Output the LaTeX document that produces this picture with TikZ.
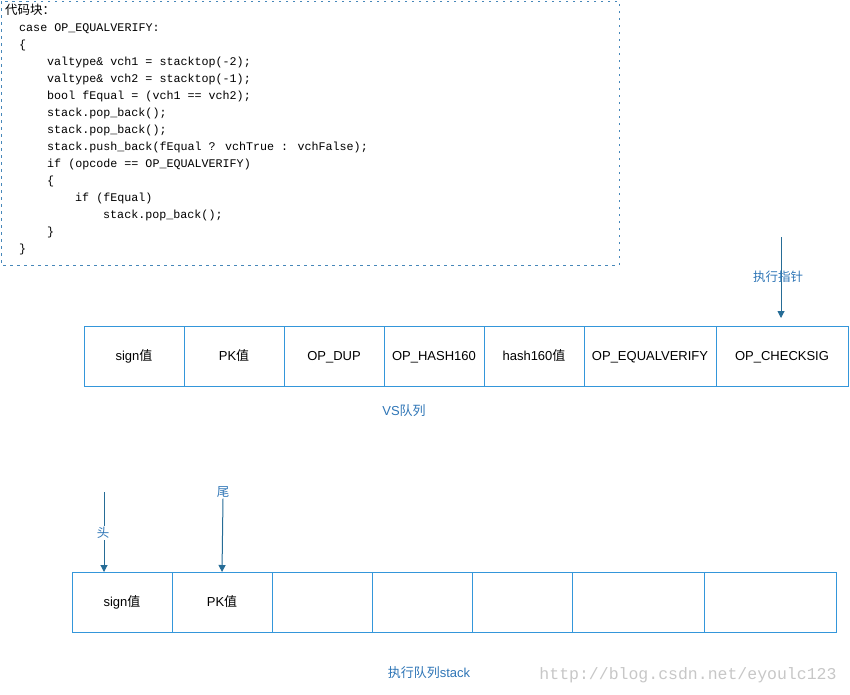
\documentclass[tikz,border=0pt]{standalone}
\usepackage{fontspec}
\setmainfont{Liberation Sans}
\newfontfamily\cjk{Noto Sans CJK SC}
\newfontfamily\codefont{Liberation Mono}
\usetikzlibrary{positioning,arrows.meta}
\definecolor{cellblue}{RGB}{52,150,218}
\definecolor{ptrblue}{RGB}{38,108,150}
\definecolor{labelblue}{RGB}{46,117,182}
\definecolor{dashblue}{RGB}{70,135,185}
\begin{document}
\begin{tikzpicture}[x=1pt,y=-1pt,
  cell/.style={draw=cellblue,line width=1pt,minimum height=60pt,minimum width=100pt,
    inner sep=0pt,outer sep=0pt,text height=12pt,text depth=3pt,font=\fontsize{13}{15}\selectfont},
  widecell/.style={cell,minimum width=132pt},
  ptr/.style={draw=ptrblue,line width=1pt,-{Triangle[length=7pt,width=7pt]}},
  tag/.style={text=labelblue,inner sep=1pt,font=\fontsize{12.5}{14}\selectfont}]
\useasboundingbox (0,0) rectangle (850,694);
% code block
\draw [dashblue,line width=1pt,dash pattern=on 2.5pt off 4.5pt] (1,1) rectangle (619,265);
\node [anchor=north west,inner sep=0pt,align=left,font=\codefont\fontsize{11.7}{17}\selectfont] (code) at (5,4)
  {{\cjk\fontsize{12.5}{17}\selectfont 代码块：}\\
   \hspace*{14pt}case OP\_EQUALVERIFY:\\
   \hspace*{14pt}\{\\
   \hspace*{42pt}valtype\& vch1 = stacktop(-2);\\
   \hspace*{42pt}valtype\& vch2 = stacktop(-1);\\
   \hspace*{42pt}bool fEqual = (vch1 == vch2);\\
   \hspace*{42pt}stack.pop\_back();\\
   \hspace*{42pt}stack.pop\_back();\\
   \hspace*{42pt}stack.push\_back(fEqual ? vchTrue : vchFalse);\\
   \hspace*{42pt}if (opcode == OP\_EQUALVERIFY)\\
   \hspace*{42pt}\{\\
   \hspace*{70pt}if (fEqual)\\
   \hspace*{98pt}stack.pop\_back();\\
   \hspace*{42pt}\}\\
   \hspace*{14pt}\}};
% VS queue
\node [cell] (vs1) at (134,356) {sign{\cjk 值}};
\node [cell,right=0pt of vs1] (vs2) {PK{\cjk 值}};
\node [cell,right=0pt of vs2] (vs3) {OP\_DUP};
\node [cell,right=0pt of vs3] (vs4) {OP\_HASH160};
\node [cell,right=0pt of vs4] (vs5) {hash160{\cjk 值}};
\node [widecell,right=0pt of vs5] (vs6) {OP\_EQUALVERIFY};
\node [widecell,right=0pt of vs6] (vs7) {OP\_CHECKSIG};
\node [tag,font=\fontsize{13}{15}\selectfont] (vslabel) at (404,411) {VS{\cjk 队列}};
\coordinate (ptrtop) at (781,237);
\draw [ptr] (ptrtop) -- ([yshift=8pt]vs7.north -| ptrtop);
\node [tag] (ptrlabel) at (778,277) {\cjk 执行指针};
% stack
\node [cell] (st1) at (122,602) {sign{\cjk 值}};
\node [cell,right=0pt of st1] (st2) {PK{\cjk 值}};
\node [cell,right=0pt of st2] (st3) {};
\node [cell,right=0pt of st3] (st4) {};
\node [cell,right=0pt of st4] (st5) {};
\node [widecell,right=0pt of st5] (st6) {};
\node [widecell,right=0pt of st6] (st7) {};
\coordinate (headtop) at (104,492);
\draw [ptr] (headtop) -- (st1.north -| headtop);
\node [tag,fill=white] (head) at (103,533) {\cjk 头};
\node [tag] (tail) at (223,492) {\cjk 尾};
\draw [ptr] (tail.south) -- (st2.north);
\node [tag,font=\fontsize{13}{15}\selectfont] (stlabel) at (429,673) {{\cjk 执行队列}stack};
\node [text=black!22,inner sep=0pt,font=\codefont\fontsize{16.5}{18}\selectfont] (mark) at (688,675) {http://blog.csdn.net/eyoulc123};
\end{tikzpicture}
\end{document}
